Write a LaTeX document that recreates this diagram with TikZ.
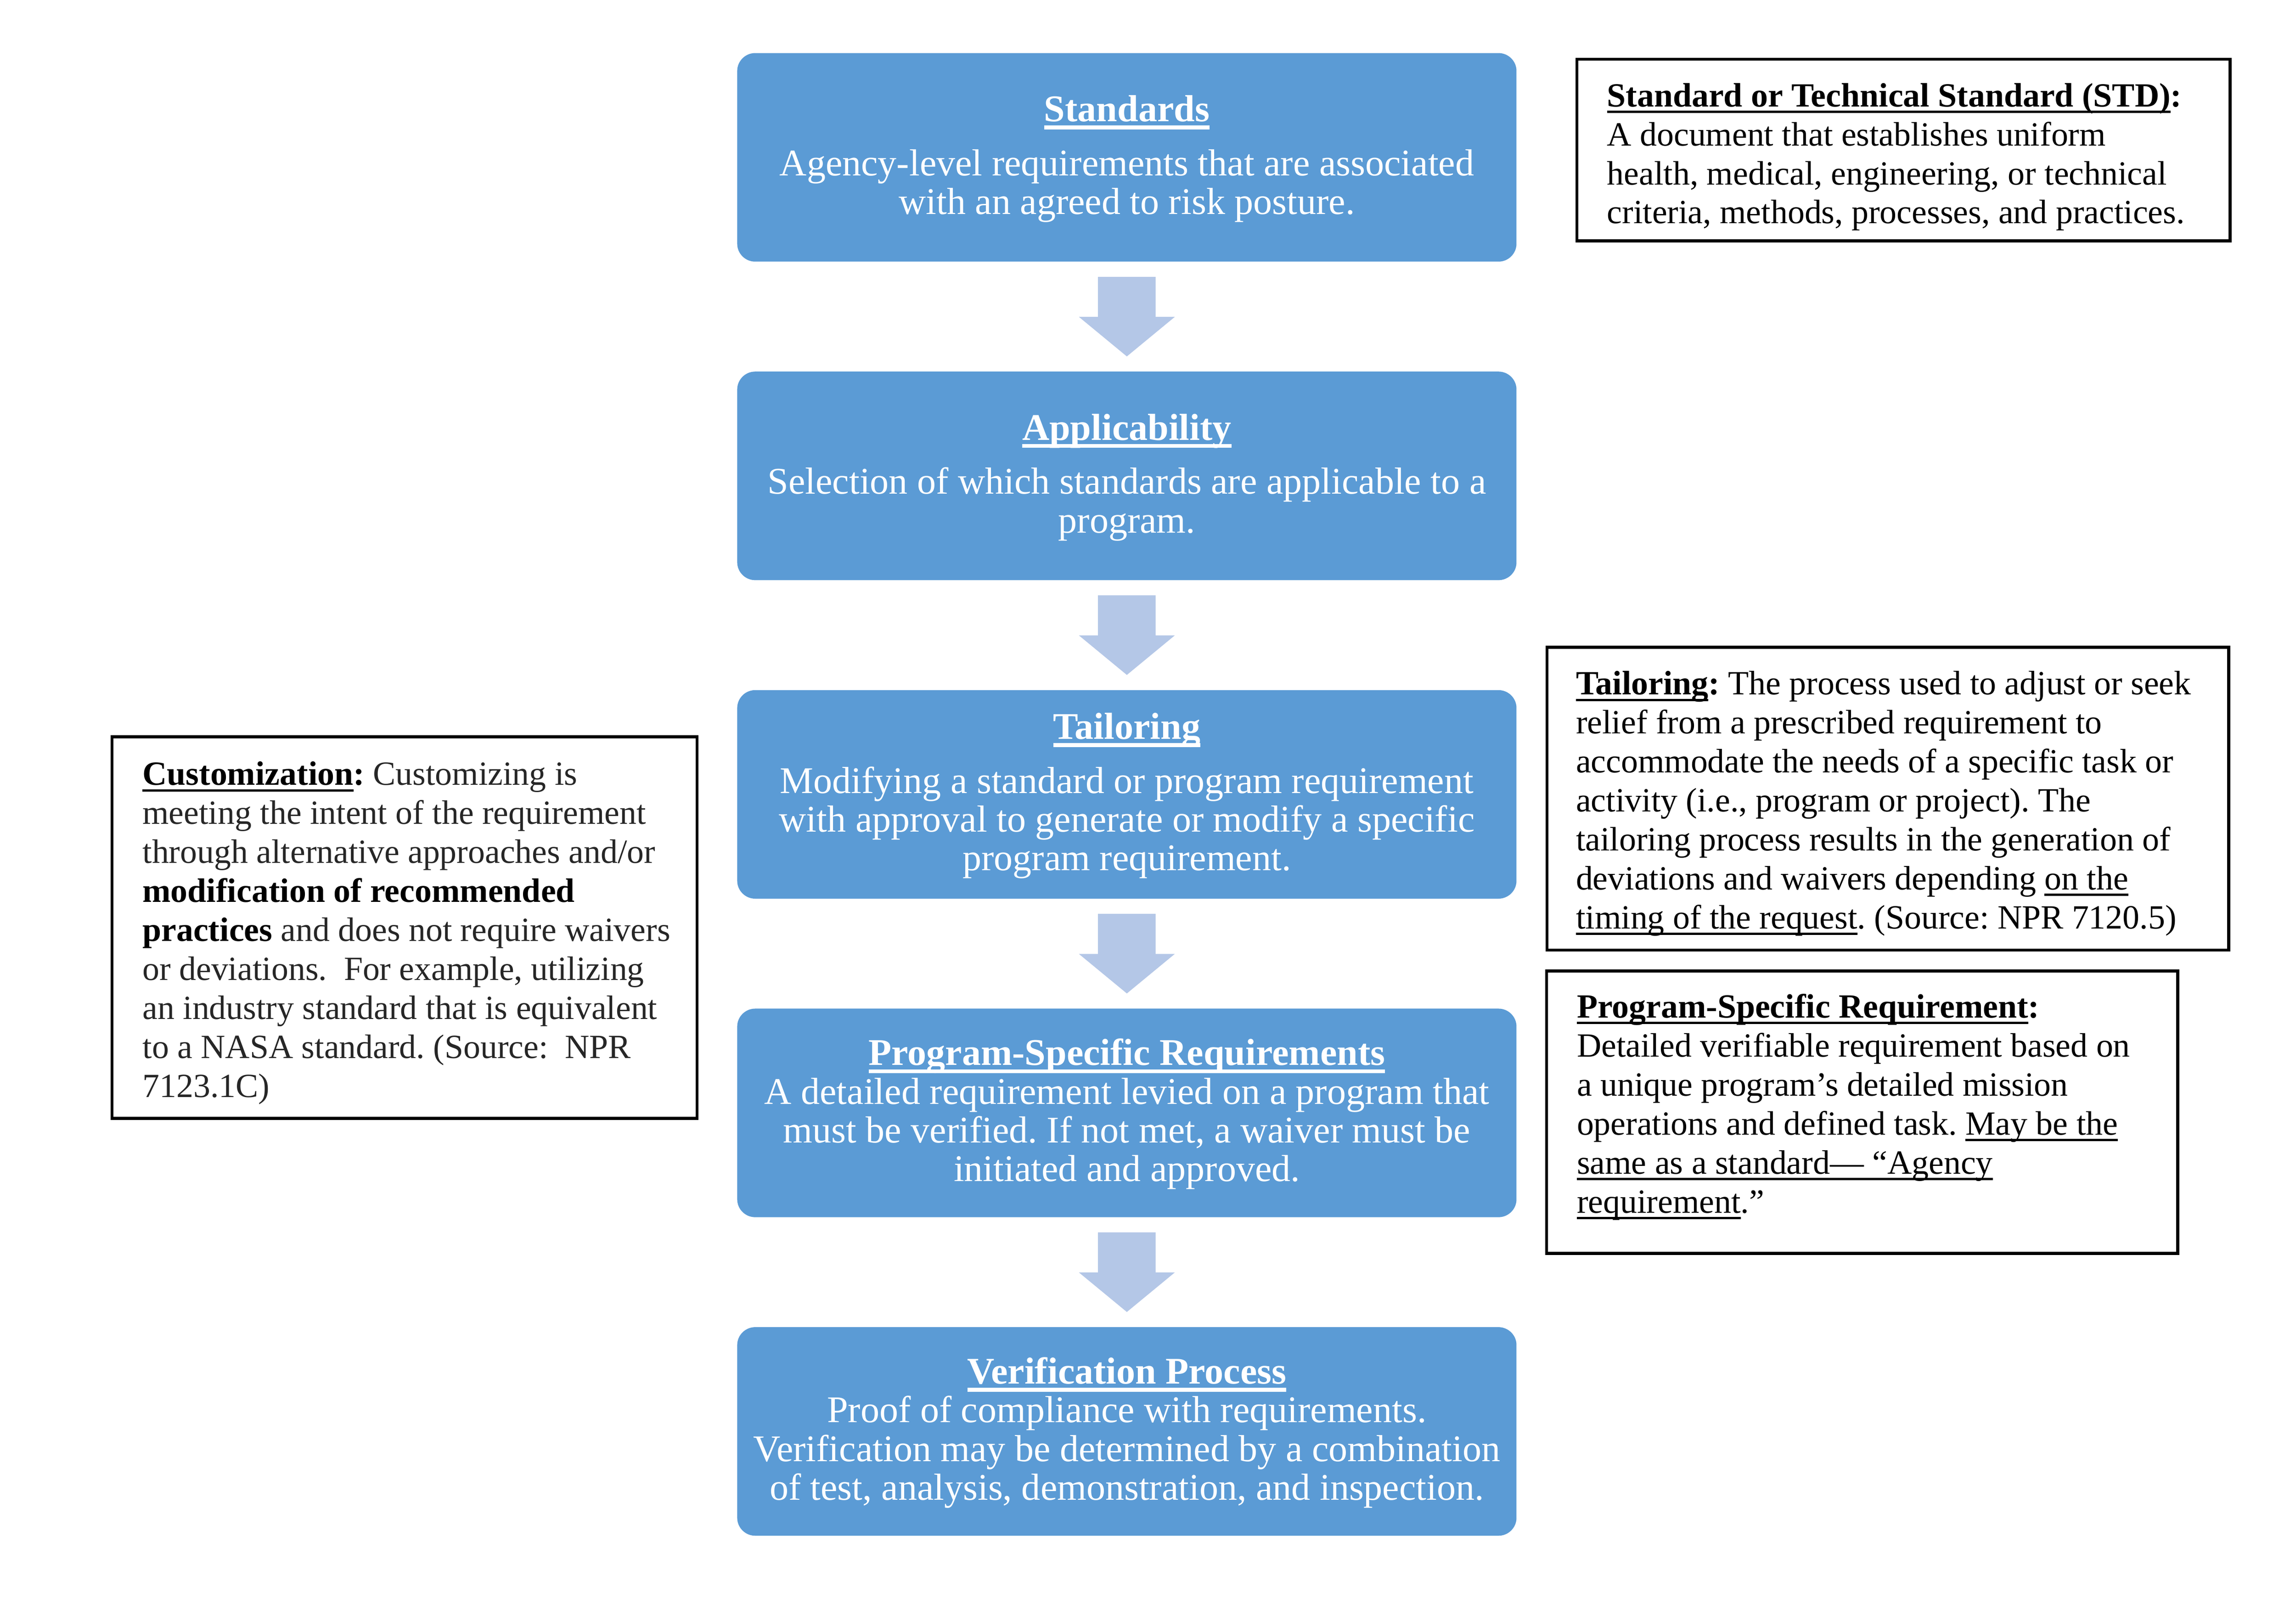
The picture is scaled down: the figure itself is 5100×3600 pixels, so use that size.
\documentclass[tikz,border=0pt]{standalone}
\usepackage{fontspec}
\setmainfont{Liberation Serif}
\usetikzlibrary{calc}
\definecolor{boxblue}{HTML}{5B9BD5}
\definecolor{arrowblue}{HTML}{B4C7E7}
\definecolor{custgray}{HTML}{262626}
% Word-style underline (crosses descenders)
\newcommand\wul[1]{\setbox0\hbox{#1}\rlap{\rule[-0.19em]{\wd0}{0.068em}}\box0}
\newcommand\wult[1]{\setbox0\hbox{#1}\rlap{\rule[-0.21em]{\wd0}{0.1em}}\box0}
\newcommand\blockarrow[2]{%
  \fill[arrowfill] ($(#1.south)+(-64,33)$) -- ($(#1.south)+(64,33)$)
    -- ($(#1.south)+(64,122)$) -- ($(#1.south)+(106.5,122)$)
    -- ($(#2.north)+(0,-33)$) -- ($(#1.south)+(-106.5,122)$)
    -- ($(#1.south)+(-64,122)$) -- cycle;}
\begin{document}
\frenchspacing
\begin{tikzpicture}[x=0.01cm,y=-0.01cm,
  bluebox/.style={fill=boxblue,draw=none,rounded corners=0.4cm,
    minimum width=17.3cm,minimum height=4.63cm,inner sep=0pt},
  bluetext/.style={text=white,align=center,inner sep=0pt,yshift=-0.06cm,
    font=\fontsize{23.79}{24.47}\selectfont},
  arrowfill/.style={fill=arrowblue},
  defbox/.style={draw=black,line width=1.85pt,inner sep=0pt},
  deftext/.style={align=left,inner sep=0pt,anchor=north west,
    font=\fontsize{21.4}{24.64}\selectfont}]
\useasboundingbox (0,0) rectangle (5100,3600);

% main flow boxes
\node[bluebox] (b1) at (2503,349.5) {};
\node[bluebox] (b2) at (2503,1057) {};
\node[bluebox] (b3) at (2503,1764.5) {};
\node[bluebox] (b4) at (2503,2472) {};
\node[bluebox] (b5) at (2503,3179.5) {};

\node[bluetext] (t1) at (b1.center) {\strut\textbf{\wult{Standards}}\\[0.34cm]
  Agency-level requirements that are associated\\
  with an agreed to risk posture.\strut};
\node[bluetext] (t2) at (b2.center) {\strut\textbf{\wult{Applicability}}\\[0.34cm]
  Selection of which standards are applicable to a\\
  program.\strut};
\node[bluetext] (t3) at (b3.center) {\strut\textbf{\wult{Tailoring}}\\[0.34cm]
  Modifying a standard or program requirement\\
  with approval to generate or modify a specific\\
  program requirement.\strut};
\node[bluetext] (t4) at (b4.center) {\strut\textbf{\wult{Program-Specific Requirements}}\\
  A detailed requirement levied on a program that\\
  must be verified. If not met, a waiver must be\\
  initiated and approved.\strut};
\node[bluetext] (t5) at (b5.center) {\strut\textbf{\wult{Verification Process}}\\
  Proof of compliance with requirements.\\
  Verification may be determined by a combination\\
  of test, analysis, demonstration, and inspection.\strut};

% block arrows
\blockarrow{b1}{b2}
\blockarrow{b2}{b3}
\blockarrow{b3}{b4}
\blockarrow{b4}{b5}

% definition boxes
\node[defbox,minimum width=14.50cm,minimum height=4.03cm] (stdbox) at (4228,333.5) {};
\node[deftext] (stdtext) at (3569,175.4) {\strut\textbf{\wul{Standard or Technical Standard (STD)}:}\\
  A document that establishes uniform\\
  health, medical, engineering, or technical\\
  criteria, methods, processes, and practices.};

\node[defbox,minimum width=15.13cm,minimum height=6.72cm] (tailbox) at (4193.5,1774) {};
\node[deftext] (tailtext) at (3500,1481.4) {\strut\textbf{\wul{Tailoring}:} The process used to adjust or seek\\
  relief from a prescribed requirement to\\
  accommodate the needs of a specific task or\\
  activity (i.e., program or project). The\\
  tailoring process results in the generation of\\
  deviations and waivers depending \wul{on the}\\
  \wul{timing of the request}. (Source: NPR 7120.5)};

\node[defbox,minimum width=14.01cm,minimum height=6.27cm] (progbox) at (4136.5,2470.5) {};
\node[deftext] (progtext) at (3502,2199.4) {\strut\textbf{\wul{Program-Specific Requirement}:}\\
  Detailed verifiable requirement based on\\
  a unique program’s detailed mission\\
  operations and defined task. \wul{May be the}\\
  \wul{same as a standard— “Agency}\\
  \wul{requirement}.”};

\node[defbox,minimum width=12.99cm,minimum height=8.47cm] (custbox) at (898.5,2060.5) {};
\node[deftext,text=custgray] (custtext) at (316,1682.4) {\strut\textcolor{black}{\textbf{\wul{Customization}:}} Customizing is\\
  meeting the intent of the requirement\\
  through alternative approaches and/or\\
  \textcolor{black}{\textbf{modification of recommended}}\\
  \textcolor{black}{\textbf{practices}} and does not require waivers\\
  or deviations.\hspace{0.25em} For example, utilizing\\
  an industry standard that is equivalent\\
  to a NASA standard. (Source:\hspace{0.25em} NPR\\
  7123.1C)};
\end{tikzpicture}
\end{document}
